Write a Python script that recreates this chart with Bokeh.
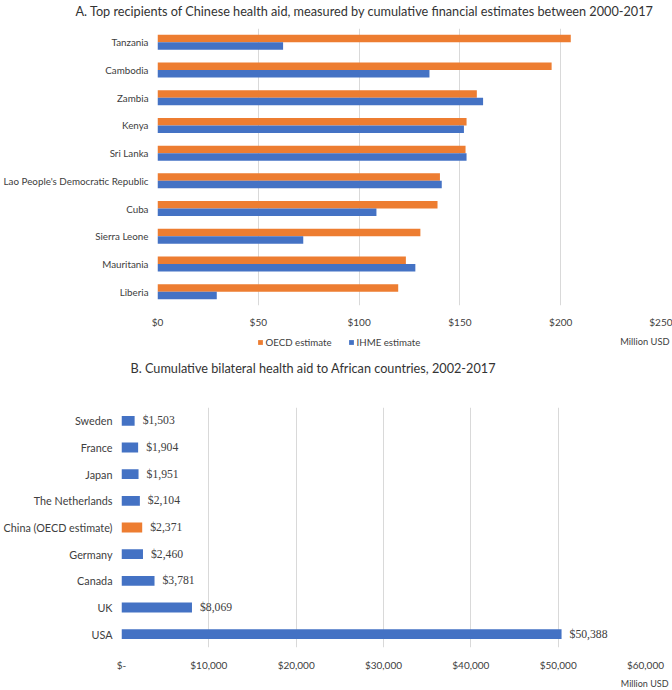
from bokeh.plotting import figure
from bokeh.layouts import column
from bokeh.models import (FactorRange, Range1d, NumeralTickFormatter, FixedTicker,
                          Legend, LegendItem, Label, ColumnDataSource, LabelSet, Title)
from bokeh.transform import dodge
from bokeh.embed import file_html
from bokeh.resources import INLINE

# ---------------- data ----------------
countries_a = ["Tanzania", "Cambodia", "Zambia", "Kenya", "Sri Lanka",
               "Lao People's Democratic Republic", "Cuba", "Sierra Leone",
               "Mauritania", "Liberia"]
oecd_a = [205.0, 195.5, 158.4, 153.3, 152.8, 140.1, 138.9, 130.4, 123.2, 119.4]
ihme_a = [62.3, 134.9, 161.5, 152.0, 153.3, 141.0, 108.6, 72.3, 127.9, 29.4]
ticks_a = [0, 50, 100, 150, 200, 250]
series_a = ["OECD estimate", "IHME estimate"]

donors_b = ["Sweden", "France", "Japan", "The Netherlands", "China (OECD estimate)",
            "Germany", "Canada", "UK", "USA"]
aid_b = [1503, 1904, 1951, 2104, 2371, 2460, 3781, 8069, 50388]
ticks_b = [0, 10000, 20000, 30000, 40000, 50000, 60000]

title_a = ("A. Top recipients of Chinese health aid, measured by cumulative "
           "financial estimates between 2000-2017")
title_b = "B. Cumulative bilateral health aid to African countries, 2002-2017"
unit = "Million USD"

ORANGE = "#ED7D31"
BLUE = "#4472C4"
GRID = "#D9D9D9"
TXT = "#404040"
TTL = "#333333"
FONT = "Lato"

W = 672


def style_axes(p, xsize, ysize):
    for ax in (p.xaxis, p.yaxis):
        ax.axis_line_color = None
        ax.major_tick_line_color = None
        ax.minor_tick_line_color = None
        ax.major_tick_out = 0
        ax.major_tick_in = 0
        ax.major_label_text_font = FONT
        ax.major_label_text_color = TXT
    p.xaxis.major_label_text_font_size = xsize
    p.yaxis.major_label_text_font_size = ysize
    p.ygrid.grid_line_color = None
    p.xgrid.grid_line_color = GRID
    p.outline_line_color = None


def band(h):
    """A plain strip (pixel coordinates, y from the top) for titles and legends."""
    f = figure(width=W, height=h, output_backend="svg", toolbar_location=None,
               x_range=Range1d(0, W), y_range=Range1d(h, 0), frame_align=False,
               x_axis_type=None, y_axis_type=None, min_border=0)
    f.outline_line_color = None
    f.grid.visible = False
    return f


# ---------------- title of chart A ----------------
pt = band(20)
pt.add_layout(Label(x=75, y=10, text=title_a, text_font=FONT, text_font_size="12.7px",
                    text_color=TTL, text_baseline="middle", text_align="left"))

# ---------------- chart A ----------------
pa = figure(width=W, height=310, output_backend="svg", toolbar_location=None,
            y_range=FactorRange(factors=list(reversed(countries_a)), range_padding=0),
            x_range=Range1d(0, 250), frame_align=False,
            min_border_left=155, min_border_right=11, min_border_top=8,
            min_border_bottom=23)
src_a = ColumnDataSource(dict(country=countries_a, oecd=oecd_a, ihme=ihme_a))
pa.hbar(y=dodge("country", 0.135, range=pa.y_range), right="oecd", left=0,
        height=0.27, source=src_a, fill_color=ORANGE, line_color=None)
pa.hbar(y=dodge("country", -0.135, range=pa.y_range), right="ihme", left=0,
        height=0.27, source=src_a, fill_color=BLUE, line_color=None)
pa.xaxis.ticker = FixedTicker(ticks=ticks_a)
pa.xaxis.formatter = NumeralTickFormatter(format="$0")
style_axes(pa, "10px", "9.8px")
pa.xaxis.major_label_standoff = 10
pa.yaxis.major_label_standoff = 9

# ---------------- legend of A, unit label, title of B ----------------
pl = band(76)
# zero-size proxies that only carry the legend swatches
d_o = pl.hbar(y=[0], left=[0], right=[0], height=0, fill_color=ORANGE, line_color=None)
d_i = pl.hbar(y=[0], left=[0], right=[0], height=0, fill_color=BLUE, line_color=None)
leg = Legend(items=[LegendItem(label=series_a[0], renderers=[d_o]),
                    LegendItem(label=series_a[1], renderers=[d_i])],
             orientation="horizontal", location=(256.5, 58),
             glyph_width=6, glyph_height=6, label_text_font=FONT,
             label_text_font_size="9.7px", label_text_color=TXT,
             label_standoff=3, spacing=16, padding=2, margin=0,
             border_line_color=None, background_fill_alpha=0)
pl.add_layout(leg)
pl.add_layout(Label(x=669, y=10.5, text=unit, text_font=FONT,
                    text_font_size="9.3px", text_color=TXT,
                    text_baseline="middle", text_align="right"))
pl.add_layout(Label(x=130, y=37, text=title_b, text_font=FONT,
                    text_font_size="12.7px", text_color=TTL,
                    text_baseline="middle", text_align="left"))

# ---------------- chart B ----------------
pb = figure(width=W, height=284, output_backend="svg", toolbar_location=None,
            y_range=FactorRange(factors=list(reversed(donors_b)), range_padding=0),
            x_range=Range1d(0, 60000), frame_align=False,
            min_border_left=120, min_border_right=27, min_border_top=1,
            min_border_bottom=41)
colors_b = [ORANGE if d.startswith("China") else BLUE for d in donors_b]
labels_b = ["${:,}".format(v) for v in aid_b]
src_b = ColumnDataSource(dict(donor=donors_b, aid=aid_b, color=colors_b, lab=labels_b))
pb.hbar(y="donor", right="aid", left=0, height=0.37, source=src_b,
        fill_color="color", line_color=None)
pb.add_layout(LabelSet(x="aid", y="donor", text="lab", source=src_b, x_offset=8,
                       text_font=FONT, text_font_size="11.7px", text_color=TXT,
                       text_baseline="middle"))
pb.xaxis.ticker = FixedTicker(ticks=ticks_b)
pb.xaxis.formatter = NumeralTickFormatter(format="$0,0")
pb.xaxis.major_label_overrides = {0: "$-"}
style_axes(pb, "10px", "10.8px")
pb.xaxis.major_label_standoff = 11
pb.yaxis.major_label_standoff = 9

t_unit = Title(text=unit, align="right", offset=-23, standoff=4)
t_unit.text_font = FONT
t_unit.text_font_size = "9px"
t_unit.text_font_style = "normal"
t_unit.text_color = TXT
pb.add_layout(t_unit, "below")

layout = column(pt, pa, pl, pb, spacing=0)
open("out.html", "w").write(file_html(layout, INLINE))
